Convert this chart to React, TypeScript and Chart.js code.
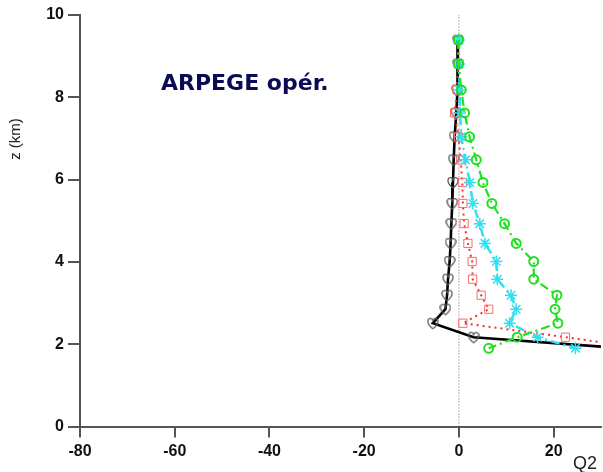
import React, { useEffect, useRef } from "react";
import { Chart, registerables } from "chart.js";
Chart.register(...registerables);

// Height levels (km)
const zLevels = [9.39, 8.81, 8.18, 7.62, 7.04, 6.48, 5.93, 5.42, 4.93, 4.45, 4.01, 3.58, 3.19, 2.85, 2.51, 2.17, 1.9];
// Q2 profiles
const blackQ2 = [-0.2, -0.2, -0.4, -0.55, -0.9, -1.1, -1.25, -1.4, -1.6, -1.75, -1.95, -2.3, -2.5, -2.85, -5.5, 3.1, 35];
const redQ2 = [-0.17, -0.17, -0.38, -0.9, -0.06, 0.36, 0.72, 0.84, 1.1, 1.9, 2.8, 2.9, 4.7, 6.3, 0.84, 22.5, 39];
const cyanQ2 = [0, 0.04, 0.15, 0.25, 0.5, 1.4, 2.3, 2.95, 4.4, 5.5, 7.9, 8.1, 11.0, 12.1, 10.7, 16.6, 24.6];
const greenQ2 = [-0.06, -0.06, 0.5, 1.2, 2.25, 3.67, 5.07, 6.96, 9.64, 12.1, 15.8, 15.8, 20.7, 20.3, 20.9, 12.3, 6.3];
// zero reference line
const zeroLineX = [0, 0];
const zeroLineZ = [0, 10];
// ticks
const xTickValues = [-80, -60, -40, -20, 0, 20];
const yTickValues = [0, 2, 4, 6, 8, 10];
const titleText = "ARPEGE opér.";
const yAxisTitle = "z (km)";
const xAxisTitle = "Q2";

function makeHeart(): HTMLCanvasElement {
  const c = document.createElement("canvas");
  c.width = 12;
  c.height = 13;
  const g = c.getContext("2d")!;
  g.strokeStyle = "#5a5a5a";
  g.lineWidth = 1.3;
  g.beginPath();
  g.moveTo(6, 12);
  g.bezierCurveTo(1.5, 8.5, 0.5, 5, 1.3, 3);
  g.bezierCurveTo(2.3, 0.9, 5.2, 1.0, 6, 3.8);
  g.bezierCurveTo(6.8, 1.0, 9.7, 0.9, 10.7, 3);
  g.bezierCurveTo(11.5, 5, 10.5, 8.5, 6, 12);
  g.stroke();
  return c;
}

const pts = (xs: number[], zs: number[]) => zs.map((z, i) => ({ x: xs[i], y: z }));

export default function App() {
  const ref = useRef<HTMLCanvasElement | null>(null);
  useEffect(() => {
    if (!ref.current) return;
    const heart = makeHeart();
    const textPlugin = {
      id: "texts",
      afterDraw(chart: any) {
        const ctx = chart.ctx;
        ctx.save();
        ctx.fillStyle = "#0a0a55";
        ctx.font = 'bold 22px "DejaVu Sans"';
        ctx.textAlign = "left";
        ctx.textBaseline = "alphabetic";
        ctx.fillText(titleText, 161, 90);
        ctx.fillStyle = "#222";
        ctx.font = '18px "Liberation Sans", Arial, sans-serif';
        ctx.textAlign = "center";
        ctx.textBaseline = "middle";
        ctx.fillText(xAxisTitle, 585, 464);
        ctx.font = '15px "Liberation Sans", Arial, sans-serif';
        ctx.translate(16, 139);
        ctx.rotate(-Math.PI / 2);
        ctx.fillText(yAxisTitle, 0, 0);
        ctx.restore();
      },
    };
    const tickFont = { family: '"Liberation Sans", Arial, sans-serif', size: 16, weight: "bold" as const };
    const chart = new Chart(ref.current, {
      type: "scatter",
      data: {
        datasets: [
          {
            label: "zero",
            data: pts(zeroLineX, zeroLineZ),
            showLine: true,
            borderColor: "#666",
            borderWidth: 1,
            borderDash: [1, 2],
            pointRadius: 0,
            order: 5,
          },
          {
            label: "black",
            data: pts(blackQ2, zLevels),
            showLine: true,
            borderColor: "#000",
            borderWidth: 2.6,
            pointStyle: heart as any,
            pointRadius: 6,
            order: 3,
          },
          {
            label: "red",
            data: pts(redQ2, zLevels),
            showLine: true,
            borderColor: "#ff2a2a",
            borderWidth: 2,
            borderDash: [2, 4],
            pointStyle: "rect",
            pointRadius: 5.8,
            pointBorderColor: "#ff6a6a",
            pointBackgroundColor: "rgba(0,0,0,0)",
            pointBorderWidth: 1,
            order: 2,
          },
          {
            label: "cyan",
            data: pts(cyanQ2, zLevels),
            showLine: true,
            borderColor: "#2ee0f0",
            borderWidth: 2.5,
            borderDash: [9, 4, 2, 4],
            pointStyle: "star",
            pointRadius: 6,
            pointBorderColor: "#2ee0f0",
            pointBorderWidth: 1.5,
            order: 1,
          },
          {
            label: "green",
            data: pts(greenQ2, zLevels),
            showLine: true,
            borderColor: "#20e020",
            borderWidth: 2.2,
            borderDash: [9, 4, 2, 4],
            pointStyle: "circle",
            pointRadius: 4.5,
            pointBorderColor: "#20e020",
            pointBackgroundColor: "rgba(0,0,0,0)",
            pointBorderWidth: 2,
            order: 0,
          },
        ],
      },
      options: {
        animation: false,
        responsive: false,
        maintainAspectRatio: false,
        layout: { autoPadding: false, padding: { top: 15, right: 2, left: 0, bottom: 0 } },
        plugins: {
          legend: { display: false },
          tooltip: { enabled: false },
          title: { display: false },
        },
        scales: {
          x: {
            type: "linear",
            min: -80,
            max: 30,
            afterBuildTicks: (s: any) => {
              s.ticks = xTickValues.map((v) => ({ value: v }));
            },
            afterFit: (s: any) => {
              s.height = 45.5;
              s.paddingLeft = 0;
              s.paddingRight = 0;
            },
            grid: { drawOnChartArea: false, drawTicks: true, tickLength: 11, color: "#555", lineWidth: 2 },
            border: { display: true, color: "#555", width: 2 },
            ticks: { font: tickFont, color: "#111", padding: 4, maxRotation: 0, autoSkip: false },
          },
          y: {
            type: "linear",
            min: 0,
            max: 10,
            afterBuildTicks: (s: any) => {
              s.ticks = yTickValues.map((v) => ({ value: v }));
            },
            afterFit: (s: any) => {
              s.width = 80;
              s.paddingTop = 0;
              s.paddingBottom = 0;
            },
            grid: { drawOnChartArea: false, drawTicks: true, tickLength: 12, color: "#555", lineWidth: 2 },
            border: { display: true, color: "#555", width: 2 },
            ticks: { font: tickFont, color: "#111", padding: 4, autoSkip: false },
          },
        },
      },
      plugins: [textPlugin],
    });
    return () => chart.destroy();
  }, []);
  return (
    <div style={{ position: "fixed", left: 0, top: 0, width: 603, height: 472, background: "#fff" }}>
      <canvas ref={ref} width={603} height={472} style={{ width: 603, height: 472 }} />
    </div>
  );
}
